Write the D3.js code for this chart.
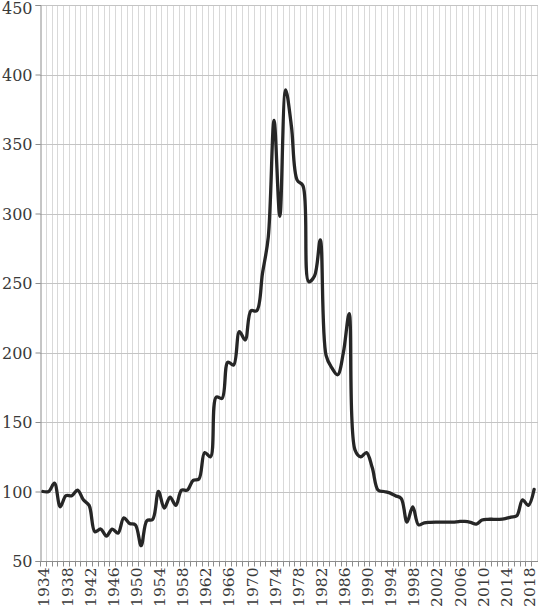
<!DOCTYPE html>
<html>
<head>
<meta charset="utf-8">
<script src="https://cdn.jsdelivr.net/npm/d3@7"></script>
<style>
  html, body { margin: 0; padding: 0; background: #fff; }
  svg { display: block; }
  svg text { font-family: "DejaVu Serif", serif !important; fill: #3a3a3a; }
</style>
</head>
<body>
<svg id="chart" width="538" height="607"></svg>
<script>
const years = d3.range(1934, 2020);
const values = [
  100, 100, 106, 89, 97, 97, 101, 94, 90, 71,
  73, 68, 73, 70, 81, 77, 76, 61, 79, 80,
  100, 88, 96, 90, 101, 101, 108, 109, 128, 125,
  168, 167, 193, 191, 215, 209, 230, 230, 257, 283,
  367, 298, 389, 363, 324, 320, 251, 255, 281, 198,
  189, 184, 200, 228, 130, 125, 128, 117, 101, 100,
  99, 97, 95, 78, 89, 76, 77.5, 77.8, 78, 78,
  78, 78, 78.4, 78.5, 77.8, 76.5, 79.5, 80, 80, 80,
  80.5, 81.5, 82.5, 94, 90, 101.5
];
const yTicks = [50, 100, 150, 200, 250, 300, 350, 400, 450];
const xTickYears = years.filter(v => (v - 1934) % 4 === 0);

const svg = d3.select("#chart");
const mLeft = 40, mRight = 537, mTop = 5, mBottom = 561;

const x = d3.scaleBand().domain(years).range([mLeft, mRight]).paddingInner(0).paddingOuter(0);
const y = d3.scaleLinear().domain([50, 450]).range([mBottom, mTop]);

// vertical gridlines at category boundaries
const gx = svg.append("g");
years.forEach((yr, i) => {
  if (i === 0) return;
  const xx = Math.round(x(yr)) + 0.5;
  gx.append("line").attr("x1", xx).attr("x2", xx).attr("y1", mTop).attr("y2", mBottom)
    .attr("stroke", "#d9d9d9").attr("stroke-width", 1);
});
gx.append("line").attr("x1", mRight + 0.5).attr("x2", mRight + 0.5).attr("y1", mTop).attr("y2", mBottom)
  .attr("stroke", "#d9d9d9").attr("stroke-width", 1);

// horizontal gridlines
yTicks.forEach(t => {
  if (t === 50) return;
  const yy = Math.round(y(t)) + 0.5;
  svg.append("line").attr("x1", mLeft).attr("x2", 538).attr("y1", yy).attr("y2", yy)
    .attr("stroke", "#c4c4c4").attr("stroke-width", 1);
});

// y axis
const yAxis = d3.axisLeft(y).tickValues(yTicks).tickSize(5).tickPadding(3).tickFormat(d3.format("d"));
const ya = svg.append("g").attr("transform", `translate(${mLeft + 0.5},0)`).call(yAxis);
ya.attr("font-family", null);
ya.select(".domain").attr("stroke", "#8c8c8c");
ya.selectAll(".tick line").attr("stroke", "#8c8c8c");
ya.selectAll(".tick text").attr("font-size", 16).attr("fill", "#3a3a3a")
  .attr("dy", d => d === 450 ? "0.55em" : "0.36em");

// x axis
const xAxis = d3.axisBottom(x).tickValues(xTickYears).tickSize(0).tickPadding(5);
const xa = svg.append("g").attr("transform", `translate(0,${mBottom + 0.5})`).call(xAxis);
xa.attr("font-family", null);
xa.select(".domain").remove();
xa.append("line").attr("x1", mLeft).attr("x2", 538).attr("y1", 0).attr("y2", 0).attr("stroke", "#8c8c8c");
years.forEach((yr) => {
  const xx = Math.round(x(yr)) + 0.5;
  xa.append("line").attr("x1", xx).attr("x2", xx).attr("y1", 0).attr("y2", 5).attr("stroke", "#8c8c8c");
});
xa.selectAll(".tick text")
  .attr("font-size", 15.5).attr("fill", "#3a3a3a")
  .attr("transform", "rotate(-90)")
  .attr("text-anchor", "end")
  .attr("dy", "0.36em")
  .attr("x", -6).attr("y", 1);

// line
const line = d3.line()
  .x((d, i) => x(years[i]) + x.bandwidth() / 2)
  .y(d => y(d))
  .curve(d3.curveCatmullRom.alpha(0.5));

svg.append("path").datum(values)
  .attr("d", line)
  .attr("fill", "none")
  .attr("stroke", "#262626")
  .attr("stroke-width", 3.3)
  .attr("stroke-linejoin", "round")
  .attr("stroke-linecap", "round");
</script>
</body>
</html>
